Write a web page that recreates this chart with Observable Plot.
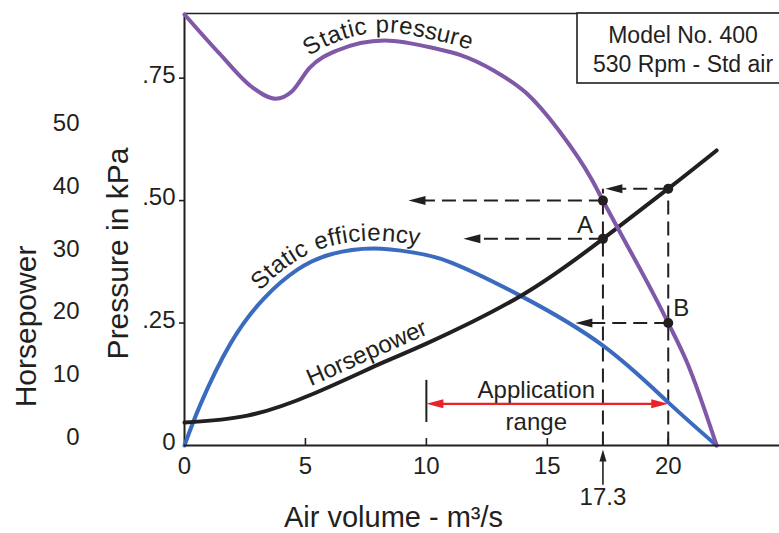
<!DOCTYPE html>
<html>
<head>
<meta charset="utf-8">
<script src="https://cdn.jsdelivr.net/npm/d3@7"></script>
<script src="https://cdn.jsdelivr.net/npm/@observablehq/plot@0.6"></script>
<style>
  html, body { margin: 0; padding: 0; background: #fff; overflow: hidden; }
  #chart { position: relative; width: 779px; height: 533px; }
</style>
</head>
<body>
<div id="chart"></div>
<script>
// ---------------- data ----------------
// Static pressure curve, kPa vs air volume m3/s
const pressureX   = [0, 1.45, 2.81, 3.76, 4.46, 5.17, 6.28, 8.27, 10.42, 11.36, 12.8, 14.12, 15.48, 16.86, 17.3, 18.0, 19.38, 20, 20.8, 22];
const pressureKPa = [0.88, 0.80, 0.731, 0.708, 0.724, 0.771, 0.806, 0.827, 0.810, 0.798, 0.765, 0.720, 0.643, 0.541, 0.50, 0.436, 0.31, 0.25, 0.167, 0];

// Static efficiency curve (no scale shown; plotted in chart units)
const efficiencyX = [0, 0.66, 1.9, 3.3, 4.67, 6.03, 7.81, 9.46, 11, 13.88, 17.3, 20, 22];
const efficiencyY = [0, 0.084, 0.208, 0.301, 0.359, 0.390, 0.402, 0.394, 0.374, 0.306, 0.204, 0.088, 0];

// Horsepower curve (hp)
const horsepowerX  = [0, 2.6, 5.33, 8.1, 10, 13.9, 17.3, 20, 22];
const horsepowerHP = [2.8, 3.9, 7.4, 12.2, 15.4, 23.0, 32.1, 40.1, 46.2];

// Axes / ticks
const xTickMarks   = [5, 10, 15, 20];
const xTickLabels  = [0, 5, 10, 15, 20];
const pressureTicks = [0, 0.25, 0.5, 0.75];
const hpTicks      = [0, 10, 20, 30, 40, 50];
const xMax = 24.6, yMax = 0.882;
// horsepower scale expressed on the pressure axis
const hpToKPa = hp => 0.011 + 0.0128 * hp;

// Operating points
const opA = 17.3, opB = 20;
const opPressureA = 0.50, opHpA = 32.1, opHpB = 40.1, opPressureB = 0.25;
// left-pointing read-out arrows: start x, y (kPa), tip x
const readStartX = [opA, opA, opB, opB];
const readY      = [opPressureA, hpToKPa(opHpA), hpToKPa(opHpB), opPressureB];
const readTipX   = [9.26, 11.53, 17.4, 16.16];
// Application range
const appRange = [10, 20];
const appArrowY = 0.085;
const appTickY = [0.047, 0.133];
// arrow under axis pointing at 17.3
const opArrowY = [-0.08, -0.008];

// ---------------- style ----------------
const INK = "#231f20", PURPLE = "#8058a8", BLUE = "#3b6bbf", RED = "#e8212b";
const FONT = "'Liberation Sans', Arial, Helvetica, sans-serif";
const W = 779, H = 533, mL = 184, mR = 0, mT = 13, mB = 88;
const pxX = (W - mL - mR) / xMax, pxY = (H - mT - mB) / yMax;
const HL = 17, HW = 4.5; // arrowhead length / half width (px)

const headLeft  = {draw(c) { c.moveTo(0, 0); c.lineTo(HL, -HW); c.lineTo(HL, HW); c.closePath(); }};
const headRight = {draw(c) { c.moveTo(0, 0); c.lineTo(-HL, -HW); c.lineTo(-HL, HW); c.closePath(); }};
const headUp    = {draw(c) { c.moveTo(0, 0); c.lineTo(-3.5, 12); c.lineTo(3.5, 12); c.closePath(); }};

const pressureRows = pressureX.map((x, i) => ({x, y: pressureKPa[i]}));
const effRows = efficiencyX.map((x, i) => ({x, y: efficiencyY[i]}));
const hpRows = horsepowerX.map((x, i) => ({x, y: hpToKPa(horsepowerHP[i])}));
const readRows = readStartX.map((x, i) => ({x1: x, x2: readTipX[i] + (HL - 2) / pxX, y: readY[i], tip: readTipX[i]}));
const vertRows = [opA, opB].map(x => ({x, y1: 0, y2: hpToKPa(opHpB)}));
const dotRows = [
  {x: opA, y: opPressureA}, {x: opA, y: hpToKPa(opHpA)},
  {x: opB, y: hpToKPa(opHpB)}, {x: opB, y: opPressureB}
];

const T = {fill: INK, lineAnchor: "middle"};

const chart = Plot.plot({
  width: W, height: H,
  marginLeft: mL, marginRight: mR, marginTop: mT, marginBottom: mB,
  x: {domain: [0, xMax]},
  y: {domain: [0, yMax]},
  style: {fontFamily: FONT, fontSize: "24px", color: INK, background: "white"},
  marks: [
    // frame / axes
    Plot.ruleY([yMax], {stroke: INK, strokeWidth: 1.6}),
    Plot.ruleX([0], {stroke: INK, strokeWidth: 2}),
    Plot.axisY({ticks: pressureTicks.filter(d => d > 0), tickSize: 5, tickFormat: () => "", label: null, stroke: INK, strokeWidth: 1.6}),
    Plot.axisX({ticks: xTickMarks, tickSize: 7, dy: -7, tickFormat: () => "", label: null, stroke: INK, strokeWidth: 1.6}),
    Plot.text(pressureTicks, {...T, y: d => d, frameAnchor: "left", dx: -9, dy: -3, textAnchor: "end", text: d => d === 0 ? "0" : d3.format(".2f")(d).replace(/^0/, ""), fontSize: 24}),
    Plot.text(hpTicks, {...T, y: d => hpToKPa(d), frameAnchor: "left", dx: -105, dy: -3, textAnchor: "end", text: d => String(d), fontSize: 24}),
    Plot.text(xTickLabels, {...T, x: d => d, frameAnchor: "bottom", dy: 21, textAnchor: "middle", text: d => String(d), fontSize: 24}),
    // axis titles
    Plot.text(["Pressure in kPa"], {...T, frameAnchor: "top-left", dx: -66, dy: 240, rotate: -90, textAnchor: "middle", fontSize: 30}),
    Plot.text(["Horsepower"], {...T, frameAnchor: "top-left", dx: -158, dy: 313, rotate: -90, textAnchor: "middle", fontSize: 30}),
    Plot.text(["Air volume - m³/s"], {...T, frameAnchor: "bottom-left", dx: 209, dy: 72, textAnchor: "middle", fontSize: 29}),

    // read-out dashed lines
    Plot.link(vertRows, {x1: "x", x2: "x", y1: "y1", y2: "y2", stroke: INK, strokeWidth: 2, strokeDasharray: "14 7"}),
    Plot.link(readRows, {x1: "x1", x2: "x2", y1: "y", y2: "y", stroke: INK, strokeWidth: 2, strokeDasharray: "14 7"}),
    Plot.dot(readRows, {x: "tip", y: "y", symbol: headLeft, fill: INK, stroke: "none", r: 5}),

    // application range
    Plot.ruleX([appRange[0]], {y1: appTickY[0], y2: appTickY[1], stroke: INK, strokeWidth: 2}),
    Plot.link([appRange], {x1: d => d[0] + (HL - 2) / pxX, x2: d => d[1] - (HL - 2) / pxX, y1: appArrowY, y2: appArrowY, stroke: RED, strokeWidth: 2.2}),
    Plot.dot([appRange[0]], {x: d => d, y: appArrowY, symbol: headLeft, fill: RED, stroke: "none", r: 5}),
    Plot.dot([appRange[1]], {x: d => d, y: appArrowY, symbol: headRight, fill: RED, stroke: "none", r: 5}),
    Plot.text(["Application\nrange"], {...T, x: (appRange[0] + appRange[1]) / 2, y: appArrowY, dx: -11, textAnchor: "middle", lineHeight: 1.35, fontSize: 24}),

    // curves
    Plot.line(effRows, {x: "x", y: "y", curve: "natural", stroke: BLUE, strokeWidth: 4, ariaDescription: "eff-curve"}),
    Plot.line(hpRows, {x: "x", y: "y", curve: "natural", stroke: INK, strokeWidth: 4, ariaDescription: "hp-curve"}),
    Plot.line(pressureRows, {x: "x", y: "y", curve: "monotone-x", stroke: PURPLE, strokeWidth: 4, ariaDescription: "sp-curve"}),
    Plot.ruleY([0], {stroke: INK, strokeWidth: 2}),

    // operating points
    Plot.dot(dotRows, {x: "x", y: "y", r: 5, fill: INK, stroke: "none"}),
    Plot.text(["A"], {...T, x: opA, y: opPressureA, dx: -18, dy: 25, textAnchor: "middle", fontSize: 24}),
    Plot.text(["B"], {...T, x: opB, y: opPressureB, dx: 13, dy: -15, textAnchor: "middle", fontSize: 24}),

    // 17.3 marker under the axis
    Plot.link([opA], {x1: d => d, x2: d => d, y1: opArrowY[0], y2: opArrowY[1] - 10 / pxY, stroke: INK, strokeWidth: 1.6}),
    Plot.dot([opA], {x: d => d, y: opArrowY[1], symbol: headUp, fill: INK, stroke: "none", r: 5}),
    Plot.text([opA], {...T, x: d => d, frameAnchor: "bottom", dy: 52, textAnchor: "middle", text: d => String(d), fontSize: 24})
  ]
});

document.getElementById("chart").appendChild(chart);

// ---------- curved labels along the curves ----------
const NS = "http://www.w3.org/2000/svg";
const xs = chart.scale("x");
function curveLabel(desc, label, startX, dy) {
  const g = chart.querySelector(`g[aria-description="${desc}"]`);
  if (!g) return;
  const path = g.querySelector("path");
  path.setAttribute("id", desc + "-path");
  const target = xs.apply(startX);
  let lo = 0, hi = path.getTotalLength();
  for (let i = 0; i < 40; i++) {
    const mid = (lo + hi) / 2;
    if (path.getPointAtLength(mid).x < target) lo = mid; else hi = mid;
  }
  const t = document.createElementNS(NS, "text");
  t.setAttribute("dy", dy);
  t.setAttribute("fill", INK);
  t.setAttribute("stroke", "none");
  t.setAttribute("text-anchor", "start");
  t.setAttribute("font-size", 24);
  t.setAttribute("font-family", FONT);
  const tp = document.createElementNS(NS, "textPath");
  tp.setAttribute("href", "#" + desc + "-path");
  tp.setAttribute("startOffset", lo);
  tp.textContent = label;
  t.appendChild(tp);
  g.appendChild(t);
}
curveLabel("sp-curve", "Static pressure", 5.35, -8);
curveLabel("eff-curve", "Static efficiency", 3.35, -8);
curveLabel("hp-curve", "Horsepower", 5.35, -8);

// ---------- model box (top right) ----------
const svg = d3.select(chart);
const box = svg.append("g");
box.append("rect").attr("x", 577).attr("y", 13).attr("width", 240).attr("height", 70)
  .attr("fill", "white").attr("stroke", INK).attr("stroke-width", 1.6);
const modelLines = ["Model No. 400", "530 Rpm - Std air"];
box.selectAll("text.m").data(modelLines).join("text")
  .attr("x", 683).attr("y", (d, i) => 43 + i * 29)
  .attr("text-anchor", "middle").attr("fill", INK)
  .attr("font-family", FONT).attr("font-size", 23)
  .text(d => d);
</script>
</body>
</html>
